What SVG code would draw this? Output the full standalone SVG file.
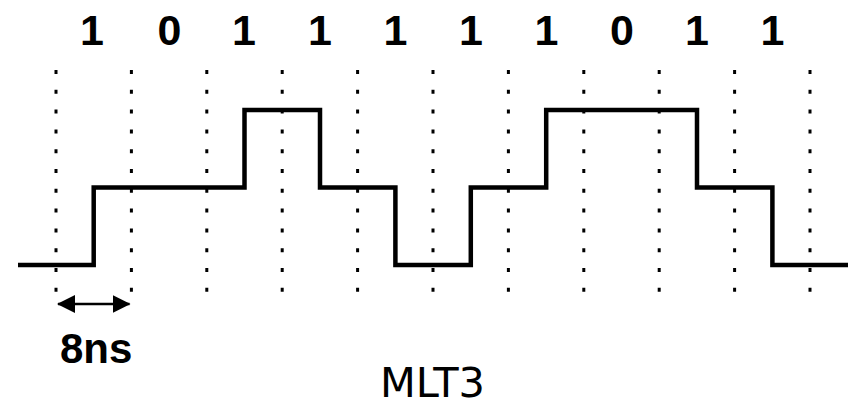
<svg xmlns="http://www.w3.org/2000/svg" width="854" height="404" viewBox="0 0 854 404">
  <style>
    .grid { stroke: #000; stroke-width: 3; stroke-dasharray: 4 15.8; fill: none; }
    .wave { stroke: #000; stroke-width: 4.5; fill: none; stroke-linejoin: miter; stroke-linecap: butt; }
    .bit { font-family: "Liberation Sans", Arial, sans-serif; font-weight: bold; font-size: 43px; fill: #000; text-anchor: middle; }
    .dim { font-family: "Liberation Sans", Arial, sans-serif; font-weight: bold; font-size: 42px; fill: #000; }
    .title { font-family: "DejaVu Sans", Verdana, sans-serif; font-size: 40px; fill: #000; }
    .arrow { stroke: #000; stroke-width: 2.5; fill: none; }
  </style>
  <defs>
    <marker id="head" viewBox="0 0 18 18" refX="17" refY="9" markerWidth="18" markerHeight="18" markerUnits="userSpaceOnUse" orient="auto-start-reverse">
      <path d="M0,0 L18,9 L0,18 Z" fill="#000"/>
    </marker>
  </defs>

  <rect width="854" height="404" fill="#fff"/>

  <!-- bit period boundaries -->
  <g id="grid">
    <line class="grid" x1="56" y1="70" x2="56" y2="295"/>
    <line class="grid" x1="131.4" y1="70" x2="131.4" y2="295"/>
    <line class="grid" x1="206.8" y1="70" x2="206.8" y2="295"/>
    <line class="grid" x1="282.2" y1="70" x2="282.2" y2="295"/>
    <line class="grid" x1="357.6" y1="70" x2="357.6" y2="295"/>
    <line class="grid" x1="433" y1="70" x2="433" y2="295"/>
    <line class="grid" x1="508.4" y1="70" x2="508.4" y2="295"/>
    <line class="grid" x1="583.8" y1="70" x2="583.8" y2="295"/>
    <line class="grid" x1="659.2" y1="70" x2="659.2" y2="295"/>
    <line class="grid" x1="734.6" y1="70" x2="734.6" y2="295"/>
    <line class="grid" x1="810" y1="70" x2="810" y2="295"/>
  </g>

  <!-- bit values -->
  <g id="bits">
    <text class="bit" x="92" y="45">1</text>
    <text class="bit" x="169.5" y="45">0</text>
    <text class="bit" x="244" y="45">1</text>
    <text class="bit" x="320" y="45">1</text>
    <text class="bit" x="395.5" y="45">1</text>
    <text class="bit" x="471" y="45">1</text>
    <text class="bit" x="546.5" y="45">1</text>
    <text class="bit" x="622" y="45">0</text>
    <text class="bit" x="697" y="45">1</text>
    <text class="bit" x="772.5" y="45">1</text>
  </g>

  <!-- MLT-3 waveform -->
  <g id="waveform">
    <path class="wave" d="M18,265 H93.7 V187.5 H244.5 V110 H320 V187.5 H395.4 V265 H470.8 V187.5 H546.2 V110 H697 V187.5 H772.4 V265 H848"/>
  </g>

  <!-- bit period dimension -->
  <g id="period">
    <line class="arrow" x1="58" y1="304" x2="129.5" y2="304" marker-start="url(#head)" marker-end="url(#head)"/>
    <text class="dim" x="60" y="363">8ns</text>
  </g>

  <g id="caption">
    <text class="title" x="380" y="397" textLength="105" lengthAdjust="spacingAndGlyphs">MLT3</text>
  </g>
</svg>
